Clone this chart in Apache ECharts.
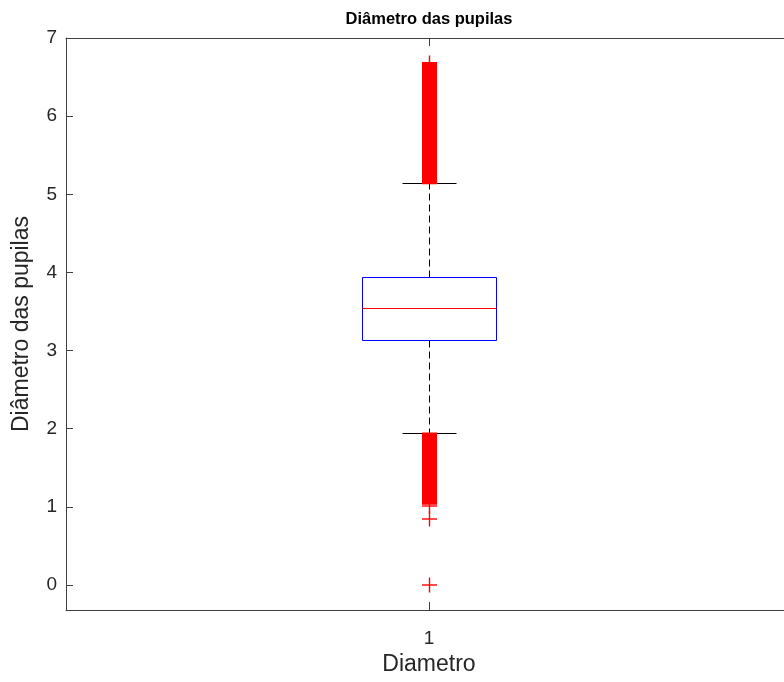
<!DOCTYPE html>
<html>
<head>
<meta charset="utf-8">
<script src="https://cdn.jsdelivr.net/npm/echarts@6/dist/echarts.min.js"></script>
<style>html,body{margin:0;padding:0;background:#fff;overflow:hidden}#c{width:800px;height:682px}</style>
</head>
<body>
<div id="c"></div>
<script>
// ---- data ----
const categories = ['1'];
// [lower whisker, Q1, median, Q3, upper whisker]
const boxStats = [1.94, 3.14, 3.54, 3.94, 5.14];
// dense runs of outliers that merge into solid red bands [from, to]
const outlierBands = [[5.14, 6.68], [1.04, 1.94]];
// individually visible outliers
const outliers = [6.68, 1.01, 0.84, 0];
const yTicks = [0, 1, 2, 3, 4, 5, 6, 7];

const AXIS = '#404040';
const FONT = 'Liberation Sans, Arial, Helvetica, sans-serif';
const px = v => Math.round(v) + 0.5;

const chart = echarts.init(document.getElementById('c'));
chart.setOption({
  animation: false,
  backgroundColor: '#fff',
  grid: { left: 66, right: 8, top: 38, bottom: 72 },
  xAxis: [
    {
      type: 'category', data: categories, position: 'bottom',
      boundaryGap: true,
      axisLine: { show: true, onZero: false, lineStyle: { color: AXIS, width: 1 } },
      axisTick: { show: true, inside: true, alignWithLabel: true, length: 8, lineStyle: { color: AXIS } },
      axisLabel: { fontSize: 19, color: '#262626', margin: 19, fontFamily: FONT },
      name: 'Diametro', nameLocation: 'middle', nameGap: 42,
      nameTextStyle: { fontSize: 23, color: '#262626', fontFamily: FONT },
      splitLine: { show: false }
    },
    {
      type: 'category', data: categories, position: 'top',
      boundaryGap: true,
      axisLine: { show: true, onZero: false, lineStyle: { color: AXIS, width: 1 } },
      axisTick: { show: true, inside: true, alignWithLabel: true, length: 8, lineStyle: { color: AXIS } },
      axisLabel: { show: false },
      name: 'Diâmetro das pupilas', nameLocation: 'middle', nameGap: 10,
      nameTextStyle: { fontSize: 16.5, fontWeight: 'bold', color: '#000', fontFamily: FONT },
      splitLine: { show: false }
    }
  ],
  yAxis: [
    {
      type: 'value', min: -0.32, max: 7, splitNumber: 7,
      axisLine: { show: true, onZero: false, lineStyle: { color: AXIS, width: 1 } },
      axisTick: { show: true, inside: true, length: 7, lineStyle: { color: AXIS } },
      axisLabel: {
        fontSize: 19, color: '#262626', margin: 9, fontFamily: FONT, showMinLabel: false,
        formatter: v => (yTicks.indexOf(v) >= 0 ? String(v) : '')
      },
      splitLine: { show: false },
      name: 'Diâmetro das pupilas', nameLocation: 'middle', nameGap: 33,
      nameTextStyle: { fontSize: 23, color: '#262626', fontFamily: FONT }
    },
    {
      type: 'value', min: -0.32, max: 7, splitNumber: 7, position: 'right',
      axisLine: { show: true, onZero: false, lineStyle: { color: AXIS, width: 1 } },
      axisTick: { show: true, inside: true, length: 7, lineStyle: { color: AXIS } },
      axisLabel: { show: false },
      splitLine: { show: false }
    }
  ],
  series: [
    {
      type: 'custom',
      xAxisIndex: 0, yAxisIndex: 0,
      data: [[0].concat(boxStats)],
      renderItem: function (params, api) {
        const x = px(api.coord([0, 0])[0]);
        const y = i => px(api.coord([0, api.value(i)])[1]);
        const lw = y(1), q1 = y(2), med = y(3), q3 = y(4), uw = y(5);
        const half = 67, cap = 27;
        const dash = { stroke: '#000', lineWidth: 1, lineDash: [7, 4] };
        return {
          type: 'group',
          children: [
            { type: 'line', shape: { x1: x, y1: q3, x2: x, y2: uw }, style: dash },
            { type: 'line', shape: { x1: x, y1: q1, x2: x, y2: lw }, style: dash },
            { type: 'line', shape: { x1: x - cap, y1: uw, x2: x + cap, y2: uw }, style: { stroke: '#000', lineWidth: 1 } },
            { type: 'line', shape: { x1: x - cap, y1: lw, x2: x + cap, y2: lw }, style: { stroke: '#000', lineWidth: 1 } },
            { type: 'rect', shape: { x: x - half, y: q3, width: 2 * half, height: q1 - q3 }, style: { fill: 'none', stroke: '#0000ff', lineWidth: 1 } },
            { type: 'line', shape: { x1: x - half, y1: med, x2: x + half, y2: med }, style: { stroke: '#ff0000', lineWidth: 1 } }
          ]
        };
      }
    },
    {
      type: 'custom',
      xAxisIndex: 0, yAxisIndex: 0,
      data: outlierBands.map(b => [0, b[0], b[1]]),
      renderItem: function (params, api) {
        const x = Math.round(api.coord([0, 0])[0]);
        const ya = api.coord([0, api.value(1)])[1];
        const yb = api.coord([0, api.value(2)])[1];
        const top = Math.min(ya, yb), bot = Math.max(ya, yb);
        return {
          type: 'rect',
          shape: { x: x - 7, y: top - 1, width: 15, height: bot - top + 2 },
          style: { fill: '#ff0000' }
        };
      }
    },
    {
      type: 'custom',
      xAxisIndex: 0, yAxisIndex: 0,
      data: outliers.map(v => [0, v]),
      renderItem: function (params, api) {
        const c = api.coord([0, api.value(1)]);
        const x = px(c[0]), y = Math.round(c[1]);
        const s = 7.5;
        const st = { stroke: '#ff0000', lineWidth: 1.4 };
        return {
          type: 'group',
          children: [
            { type: 'line', shape: { x1: x - s, y1: y, x2: x + s, y2: y }, style: st },
            { type: 'line', shape: { x1: x, y1: y - s, x2: x, y2: y + s }, style: st }
          ]
        };
      }
    }
  ]
});
</script>
</body>
</html>
